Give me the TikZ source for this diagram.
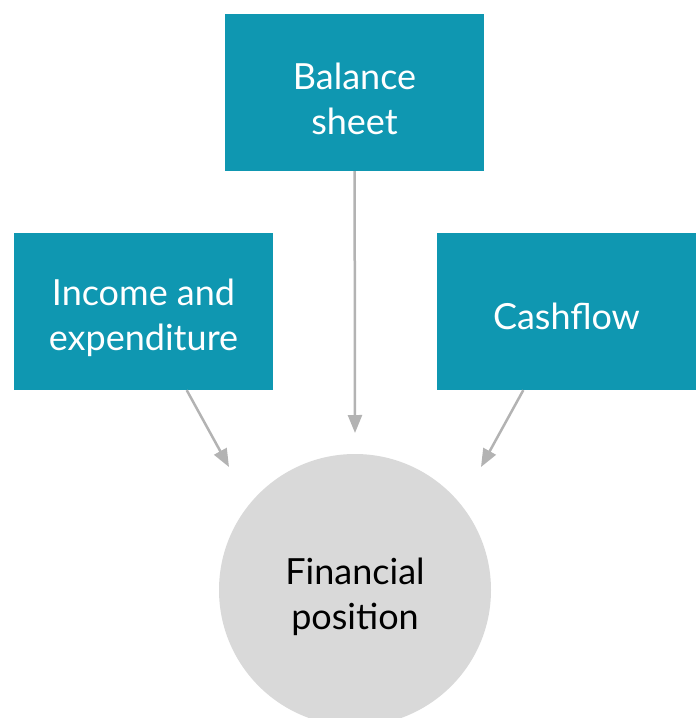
\documentclass[tikz,border=0pt]{standalone}
\usepackage{fontspec}
\setmainfont{Lato}
\usepackage{xcolor}
\usetikzlibrary{arrows.meta}
\definecolor{boxteal}{HTML}{0F97B1}
\definecolor{disc}{HTML}{D9D9D9}
\definecolor{arrowgray}{HTML}{B3B3B3}

\begin{document}
\begin{tikzpicture}[x=1pt, y=-1pt,
	box/.style={fill=boxteal, text=white, minimum width=259pt, minimum height=157pt, align=center, inner sep=0pt},
	link/.style={draw=arrowgray, line width=2.5pt, -{Triangle[length=18pt, width=14pt]}}]
	\def\bigtext{\fontsize{36}{45}\selectfont}
	\useasboundingbox (0,0) rectangle (700,718);

	% result
	\begin{scope}
		\clip (0,0) rectangle (700,718);
		\node[circle, fill=disc, minimum size=272pt, inner sep=0pt, align=center, text height=86pt, font=\bigtext] (fin) at (355,590) {Financial\\position};
	\end{scope}

	% sources
	\node[box, font=\bigtext, text height=84pt] (bal) at (354.5,92.5) {Balance\\sheet};
	\node[box, font=\bigtext, text height=84pt] (inc) at (143.5,311.5) {Income and\\expenditure};
	\node[box, font=\bigtext, text height=36pt] (cash) at (566.5,311.5) {Cashflow};

	% arrow ends
	\coordinate (tipB) at (355,433);
	\coordinate (tipI) at (229,467);
	\coordinate (tipC) at (481,467);

	\draw[link] (bal) -- (tipB);
	\draw[link] (inc) -- (tipI);
	\draw[link] (cash) -- (tipC);
\end{tikzpicture}
\end{document}
